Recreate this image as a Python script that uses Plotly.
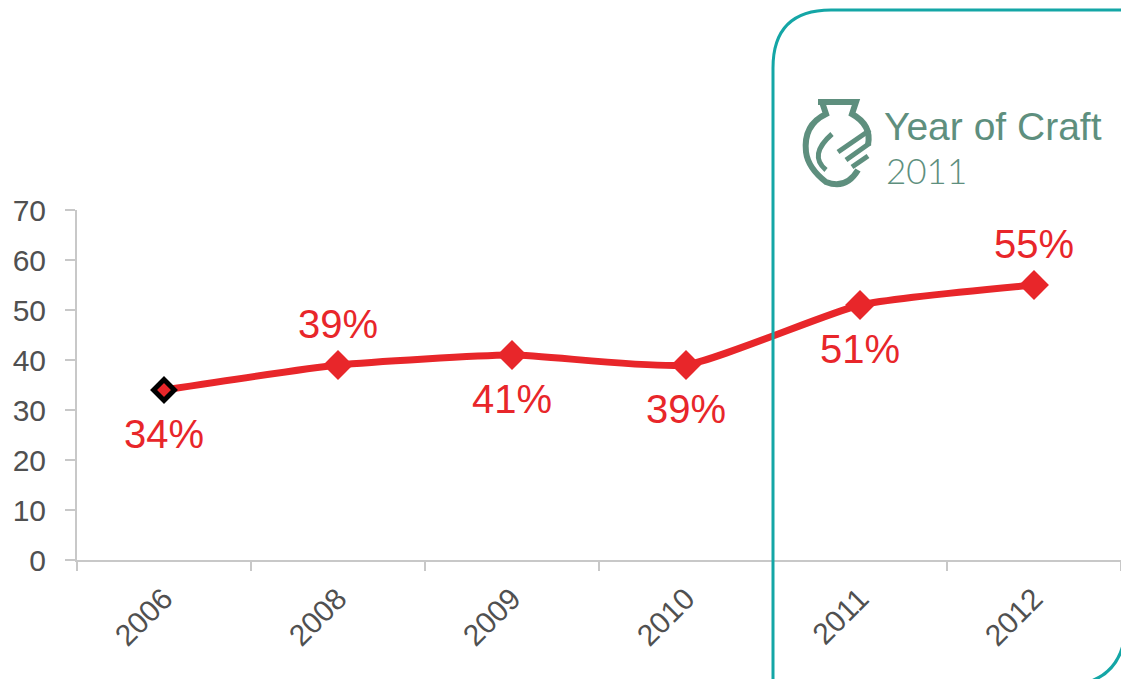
import plotly.graph_objects as go

years = ["2006", "2008", "2009", "2010", "2011", "2012"]
values = [34, 39, 41, 39, 51, 55]
labels = ["34%", "39%", "41%", "39%", "51%", "55%"]
label_side = ["below", "above", "below", "below", "below", "above"]

red = "#e8262a"
teal = "#14a6a6"
logo = "#5e8f7e"

W, H = 1121, 679
# plot area in pixels: x 77..1121, y 210..560
L, R, T, B = 77, 0, 210, 679 - 560


def px(x):
    return (x - L) / (W - L - R)


def py(y):
    return (H - B - y) / (H - T - B)


fig = go.Figure()
fig.add_trace(go.Scatter(
    x=years, y=values, mode="lines",
    line=dict(color=red, width=7, shape="spline", smoothing=0.5),
    showlegend=False, hoverinfo="skip",
))
fig.add_trace(go.Scatter(
    x=years, y=values, mode="markers",
    marker=dict(symbol="diamond", size=[16, 23, 23, 23, 23, 23], color=red, opacity=1,
                line=dict(color=["black"] + [red] * 5, width=[5, 0, 0, 0, 0, 0])),
    showlegend=False, hoverinfo="skip",
))

for i, (v, lab, side) in enumerate(zip(values, labels, label_side)):
    fig.add_annotation(x=i, y=v, text=lab, showarrow=False,
                       yshift=41 if side == "above" else -44,
                       font=dict(family="Liberation Sans, Arial", size=40, color=red))

# rounded teal frame (pixel coords mapped to paper)
x0, y0, x1, y1 = 773, 10, 1126, 686
r1, r2 = 58, 66
path = (f"M {px(x0)} {py(y1 + 20)} L {px(x0)} {py(y0 + r1)} "
        f"Q {px(x0)} {py(y0)} {px(x0 + r1)} {py(y0)} "
        f"L {px(x1 + 20)} {py(y0)} "
        f"M {px(x1)} {py(0)} L {px(x1)} {py(y1 - r2)} "
        f"Q {px(x1)} {py(y1)} {px(x1 - r2)} {py(y1)} "
        f"L {px(x0 + 200)} {py(y1)}")
fig.add_shape(type="path", xref="paper", yref="paper", path=path,
              line=dict(color=teal, width=3), layer="above")

# logo: vase with hand
vase = (f"M {px(818)} {py(102)} L {px(856)} {py(102)} "
        f"L {px(852)} {py(114)} Q {px(872)} {py(125)} {px(868)} {py(145)} "
        f"M {px(822)} {py(102)} L {px(826)} {py(114)} "
        f"Q {px(803)} {py(125)} {px(806)} {py(152)} "
        f"Q {px(808)} {py(168)} {px(826)} {py(182)} "
        f"Q {px(846)} {py(190)} {px(858)} {py(170)}")
fig.add_shape(type="path", xref="paper", yref="paper", path=vase,
              line=dict(color=logo, width=6), layer="above")
hand = (f"M {px(832)} {py(134)} Q {px(808)} {py(155)} {px(826)} {py(170)} "
        f"M {px(838)} {py(152)} L {px(870)} {py(130)} "
        f"M {px(846)} {py(160)} L {px(870)} {py(143)} "
        f"M {px(852)} {py(167)} L {px(868)} {py(156)}")
fig.add_shape(type="path", xref="paper", yref="paper", path=hand,
              line=dict(color=logo, width=5), layer="above")

fig.add_annotation(xref="paper", yref="paper", x=px(882), y=py(126), xanchor="left",
                   yanchor="middle", text="Year of Craft", showarrow=False,
                   font=dict(family="Liberation Sans, Arial", size=39, color=logo))
fig.add_annotation(xref="paper", yref="paper", x=px(884), y=py(170), xanchor="left",
                   yanchor="middle", text="2011", showarrow=False,
                   font=dict(family="Lato, Liberation Sans", size=35, color=logo, weight=300))

fig.update_xaxes(type="category", range=[-0.5, 5.5], showline=True, linecolor="#c8c8c8",
                 linewidth=2, ticks="outside", tickson="boundaries", ticklen=9,
                 tickcolor="#c8c8c8", tickwidth=2, tickangle=-45, showgrid=False,
                 automargin=False, ticklabelstandoff=7,
                 tickfont=dict(family="Liberation Sans, Arial", size=30, color="#505050"))
fig.update_yaxes(range=[0, 70], dtick=10, showline=True, linecolor="#c8c8c8",
                 linewidth=2, ticks="outside", ticklen=10, tickcolor="#c8c8c8",
                 tickwidth=2, showgrid=False, zeroline=False, automargin=False,
                 ticklabelstandoff=13,
                 tickfont=dict(family="Liberation Sans, Arial", size=30, color="#505050"))

fig.update_layout(width=W, height=H, margin=dict(l=L, r=R, t=T, b=B),
                  plot_bgcolor="white", paper_bgcolor="white")
# drop the default page margin so the figure fills the window
fig.write_html("out.html", config={"displayModeBar": False},
               post_script="document.body.style.margin='0px';")
